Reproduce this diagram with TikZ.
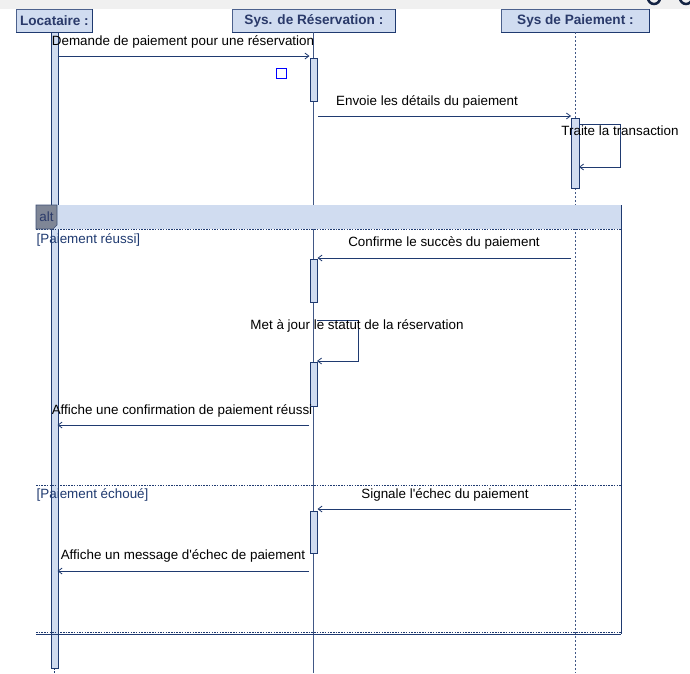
\documentclass[tikz,border=0pt]{standalone}
\usepackage{fontspec}
\setmainfont{Liberation Sans}
\usetikzlibrary{arrows.meta}
\definecolor{navy}{HTML}{1F3A70}
\definecolor{lblue}{HTML}{D0DCF0}
\definecolor{hdrtxt}{HTML}{2A3A6A}
\definecolor{altgray}{HTML}{7F8696}
\definecolor{topgray}{HTML}{F0F0F0}
\begin{document}
\begin{tikzpicture}[x=1pt,y=-1pt,
  hdr/.style={draw=navy!80,fill=lblue,line width=0.8pt,inner sep=0pt,font=\fontsize{13.6}{15}\selectfont\bfseries,text=hdrtxt},
  actbar/.style={draw=navy,fill=lblue,line width=0.8pt},
  msg/.style={draw=navy,line width=0.8pt,-{Straight Barb[length=4pt,width=6pt]}},
  lbl/.style={font=\fontsize{13.4}{15}\selectfont,text=black,inner sep=0pt},
  guard/.style={font=\fontsize{13.4}{15}\selectfont,text=navy,inner sep=0pt,anchor=west},
  sep/.style={draw=navy,line width=0.8pt,dash pattern=on 1.5pt off 1.2pt},
]
\useasboundingbox (0,0) rectangle (690,673);
\fill[white] (0,0) rectangle (690,673);
% top strip
\fill[topgray] (0,0) rectangle (690,9);
\begin{scope}
\clip (640,0) rectangle (690,9);
\draw[line width=2.5pt,navy!60!black] (654,-2) circle (6);
\draw[line width=2.5pt,navy!60!black] (686,-2) circle (6);
\end{scope}
% lifeline heads
\node[hdr,minimum width=76pt,minimum height=23pt,anchor=north west] (loc) at (16,9) {Locataire :};
\node[hdr,minimum width=163pt,minimum height=23pt,anchor=north west] (res) at (232,9) {Sys. de Réservation :};
\node[hdr,minimum width=148pt,minimum height=23pt,anchor=north west] (pay) at (501,9) {Sys de Paiement :};
\draw[navy,line width=1pt] (loc.north east) -- (loc.south east) -- (loc.south west);
\draw[navy,line width=1pt] (res.north east) -- (res.south east) -- (res.south west);
\draw[navy,line width=1pt] (pay.north east) -- (pay.south east) -- (pay.south west);
% lifelines
\coordinate (locTop) at (54,32);
\coordinate (locEnd) at (54,668);
\coordinate (locBot) at (54,673);
\coordinate (resTop) at (313,32);
\coordinate (resBot) at (313,673);
\coordinate (payTop) at (575,32);
\coordinate (payBot) at (575,673);
\draw[navy!85,line width=0.8pt] (resTop) -- (resBot);
\draw[navy!85,line width=0.7pt,dash pattern=on 2pt off 2pt] (payTop) -- (payBot);
\draw[navy,line width=0.7pt,dash pattern=on 1.5pt off 1.5pt] (locEnd) -- (locBot);
\node[actbar,anchor=north west,minimum width=7pt,minimum height=636pt,inner sep=0pt] (locAct) at (50.5,32) {};
% alt frame
\fill[lblue] (36,205) rectangle (621,229);
\draw[navy,line width=1pt] (621,205) -- (621,633.5);
\draw[navy,line width=1pt] (36,634) -- (621,634);
\draw[sep] (36,632) -- (621,632);
\draw[sep] (36,229.5) -- (621,229.5);
\draw[sep] (36,485.5) -- (621,485.5);
\fill[altgray,draw=navy!70!gray,line width=0.6pt] (36,205) -- (57,205) -- (57,225) -- (53,229) -- (36,229) -- cycle;
\node[font=\fontsize{13.4}{15}\selectfont,text=hdrtxt,inner sep=0pt] (altlbl) at (46.5,217) {alt};
\node[guard] (g1) at (36.5,240) {[Paiement réussi]};
\node[guard] (g2) at (36.5,495) {[Paiement échoué]};
% activation bars
\node[actbar,anchor=north west,minimum width=7.5pt,minimum height=43pt,inner sep=0pt] (a1) at (309.5,58) {};
\node[actbar,anchor=north west,minimum width=8pt,minimum height=70pt,inner sep=0pt] (a2) at (571,118) {};
\node[actbar,anchor=north west,minimum width=7.5pt,minimum height=43pt,inner sep=0pt] (a3) at (309.5,259) {};
\node[actbar,anchor=north west,minimum width=7.5pt,minimum height=44pt,inner sep=0pt] (a4) at (309.5,362) {};
\node[actbar,anchor=north west,minimum width=7.5pt,minimum height=42pt,inner sep=0pt] (a5) at (309.5,511) {};
% blue small square
\node[draw=blue,line width=0.8pt,minimum size=10pt,inner sep=0pt] (sq) at (281,73) {};
% message 1
\coordinate (m1s) at (57.5,56);
\coordinate (m1e) at (309.5,56);
\draw[msg] (m1s) -- (m1e);
\node[lbl] (t1) at (183,42) {Demande de paiement pour une réservation};
% message 2
\coordinate (m2s) at (318,116);
\coordinate (m2e) at (571,116);
\draw[msg] (m2s) -- (m2e);
\node[lbl] (t2) at (427,102) {Envoie les détails du paiement};
% self message 3
\coordinate (m3s) at (579,124);
\coordinate (m3c1) at (620,124);
\coordinate (m3c2) at (620,167);
\coordinate (m3e) at (579,167);
\draw[msg] (m3s) -- (m3c1) -- (m3c2) -- (m3e);
\node[lbl] (t3) at (620,131) {Traite la transaction};
% message 4
\coordinate (m4s) at (571,258);
\coordinate (m4e) at (317.5,258);
\draw[msg] (m4s) -- (m4e);
\node[lbl] (t4) at (444,243) {Confirme le succès du paiement};
% self message 5
\coordinate (m5s) at (317,320);
\coordinate (m5c1) at (358,320);
\coordinate (m5c2) at (358,361);
\coordinate (m5e) at (317,361);
\draw[msg] (m5s) -- (m5c1) -- (m5c2) -- (m5e);
\node[lbl] (t5) at (357,326) {Met à jour le statut de la réservation};
% message 6
\coordinate (m6s) at (309,425);
\coordinate (m6e) at (57.5,425);
\draw[msg] (m6s) -- (m6e);
\node[lbl] (t6) at (182,411) {Affiche une confirmation de paiement réussi};
% message 7
\coordinate (m7s) at (571,509);
\coordinate (m7e) at (317.5,509);
\draw[msg] (m7s) -- (m7e);
\node[lbl] (t7) at (445,495) {Signale l\textquotesingle échec du paiement};
% message 8
\coordinate (m8s) at (309,571);
\coordinate (m8e) at (57.5,571);
\draw[msg] (m8s) -- (m8e);
\node[lbl] (t8) at (183,556) {Affiche un message d\textquotesingle échec de paiement};
\end{tikzpicture}
\end{document}
